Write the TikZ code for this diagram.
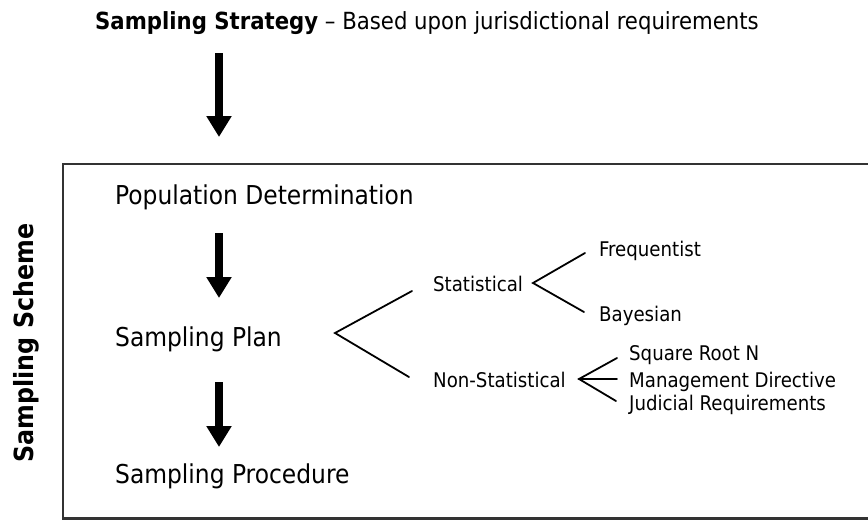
\documentclass[tikz,border=0pt]{standalone}
\usepackage{fontspec}
\setmainfont{DejaVu Sans Condensed}
\usetikzlibrary{arrows.meta}

\begin{document}
\begin{tikzpicture}[
    x=1pt, y=-1pt,
    bigarrow/.style={line width=8pt, -{Triangle[length=21pt, width=24pt]}},
    branch/.style={line width=1.8pt, line cap=round},
    frame/.style={draw=black!80, line width=2.5pt},
    stage/.style={anchor=base west, inner sep=0pt, font=\fontsize{26}{30}\selectfont},
    kind/.style={anchor=base west, inner sep=0pt, font=\fontsize{20.2}{24}\selectfont},
  ]
  \useasboundingbox (0,0) rectangle (868,520);

  % ----- strategy line on top -----
  \node[anchor=base west, inner sep=0pt, font=\fontsize{23.6}{28}\selectfont] (strategy) at (95,29)
    {\textbf{Sampling Strategy} – Based upon jurisdictional requirements};

  % ----- scheme frame (runs off the right edge) -----
  \draw[frame] (63,164) rectangle (880,518.5);
  \node[rotate=90, anchor=base, inner sep=0pt, font=\bfseries\fontsize{26.4}{30}\selectfont] (scheme) at (33,343) {Sampling Scheme};

  % ----- stages -----
  \node[stage] (popdet) at (115,204) {Population Determination};
  \node[stage] (plan)   at (115,346) {Sampling Plan};
  \node[stage] (proc)   at (115,483) {Sampling Procedure};

  % ----- plan types -----
  \node[kind] (stat)    at (433,291) {Statistical};
  \node[kind] (nonstat) at (433,387) {Non-Statistical};
  \node[kind] (freq)    at (599,256) {Frequentist};
  \node[kind] (bayes)   at (599,321) {Bayesian};
  \node[kind] (sqrtn)   at (629,360) {Square Root N};
  \node[kind] (mgmt)    at (629,387) {Management Directive};
  \node[kind] (judic)   at (629,410) {Judicial Requirements};

  % ----- arrow ends -----
  \coordinate (s0) at (219,53);  \coordinate (e0) at (219,137);
  \coordinate (s1) at (219,233); \coordinate (e1) at (219,298);
  \coordinate (s2) at (219,382); \coordinate (e2) at (219,447);

  % ----- fork ends -----
  \coordinate (planfork) at (335,333);
  \coordinate (plantop)  at (412,291);
  \coordinate (planbot)  at (409,377);
  \coordinate (statfork) at (533,283);
  \coordinate (stattop)  at (585,253);
  \coordinate (statbot)  at (584,312);
  \coordinate (nsfork)   at (579,379);
  \coordinate (nstop)    at (617,358);
  \coordinate (nsmid)    at (617,379);
  \coordinate (nsbot)    at (616,401);

  % ----- wiring -----
  \draw[bigarrow] (s0) -- (e0);                  % strategy -> scheme
  \draw[bigarrow] (s1) -- (e1);                  % population -> plan
  \draw[bigarrow] (s2) -- (e2);                  % plan -> procedure
  \draw[branch] (plantop) -- (planfork) -- (planbot);
  \draw[branch] (stattop) -- (statfork) -- (statbot);
  \draw[branch] (nstop) -- (nsfork) -- (nsbot);
  \draw[branch] (nsfork) -- (nsmid);

\end{tikzpicture}
\end{document}
